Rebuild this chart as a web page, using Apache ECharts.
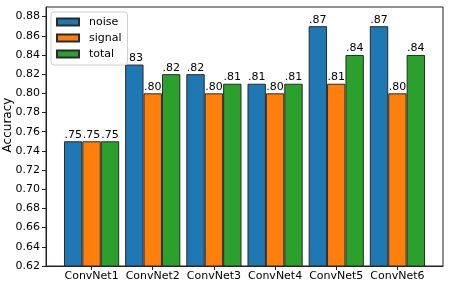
<!DOCTYPE html>
<html>
<head>
<meta charset="utf-8">
<script src="https://cdn.jsdelivr.net/npm/echarts@6/dist/echarts.min.js"></script>
<style>html,body{margin:0;padding:0;background:#fff}#c{width:473px;height:284px}</style>
</head>
<body>
<div id="c"></div>
<script>
const categories = ['ConvNet1', 'ConvNet2', 'ConvNet3', 'ConvNet4', 'ConvNet5', 'ConvNet6'];
const noise  = [0.75, 0.83, 0.82, 0.81, 0.87, 0.87];
const signal = [0.75, 0.80, 0.80, 0.80, 0.81, 0.80];
const total  = [0.75, 0.82, 0.81, 0.81, 0.84, 0.84];
const seriesNames = ['noise', 'signal', 'total'];
const colors = ['#1f77b4', '#ff7f0e', '#2ca02c'];

const FONT = 'DejaVu Sans';
const chart = echarts.init(document.getElementById('c'), null, {renderer: 'canvas'});
const positions = categories.map((c, i) => i);

function mk(name, vals, color) {
  return {
    name: name,
    type: 'bar',
    data: vals.map((v, i) => [positions[i], v]),
    barWidth: 18.4,
    barGap: '0%',
    itemStyle: {color: color, borderColor: '#2a2a2a', borderWidth: 1},
    label: {
      show: true, position: 'top', distance: 1,
      fontFamily: FONT, fontSize: 11, color: '#000',
      formatter: p => '.' + p.value[1].toFixed(2).split('.')[1]
    }
  };
}

chart.setOption({
  animation: false,
  grid: {left: 46, right: 30, top: 7, bottom: 18, outerBoundsMode: 'none', containLabel: false,
    show: true, borderColor: '#222', borderWidth: 1, backgroundColor: 'transparent'},
  legend: {
    orient: 'vertical', left: 51, top: 12,
    data: seriesNames,
    icon: 'rect', itemWidth: 22, itemHeight: 7, itemGap: 2,
    padding: [3, 6, 4, 5],
    backgroundColor: '#fff', borderColor: '#d0d0d0', borderWidth: 1, borderRadius: 3,
    textStyle: {fontFamily: FONT, fontSize: 11, color: '#000', lineHeight: 14, padding: [0, 0, 0, 5]}
  },
  xAxis: {
    type: 'value', min: -0.745, max: 5.745,
    axisLine: {show: true, onZero: false, lineStyle: {color: '#222', width: 1}},
    axisTick: {show: true, inside: false, length: 4, lineStyle: {color: '#222'}, customValues: positions},
    axisLabel: {fontFamily: FONT, fontSize: 11, color: '#000', margin: 5, customValues: positions,
      formatter: v => categories[Math.round(v)]},
    splitLine: {show: false}
  },
  yAxis: {
    type: 'value', min: 0.62, max: 0.89, interval: 0.02,
    name: 'Accuracy', nameLocation: 'middle', nameGap: 32, nameMoveOverlap: false,
    nameTextStyle: {fontFamily: FONT, fontSize: 12, color: '#000', padding: [0, 0, 0, 23]},
    axisLine: {show: true, onZero: false, lineStyle: {color: '#222', width: 1}},
    axisTick: {show: true, inside: false, length: 4, lineStyle: {color: '#222'}},
    axisLabel: {fontFamily: FONT, fontSize: 11, color: '#000', margin: 6,
      formatter: v => v.toFixed(2)},
    splitLine: {show: false}
  },
  series: [
    mk(seriesNames[0], noise, colors[0]),
    mk(seriesNames[1], signal, colors[1]),
    mk(seriesNames[2], total, colors[2])
  ]
});
</script>
</body>
</html>
